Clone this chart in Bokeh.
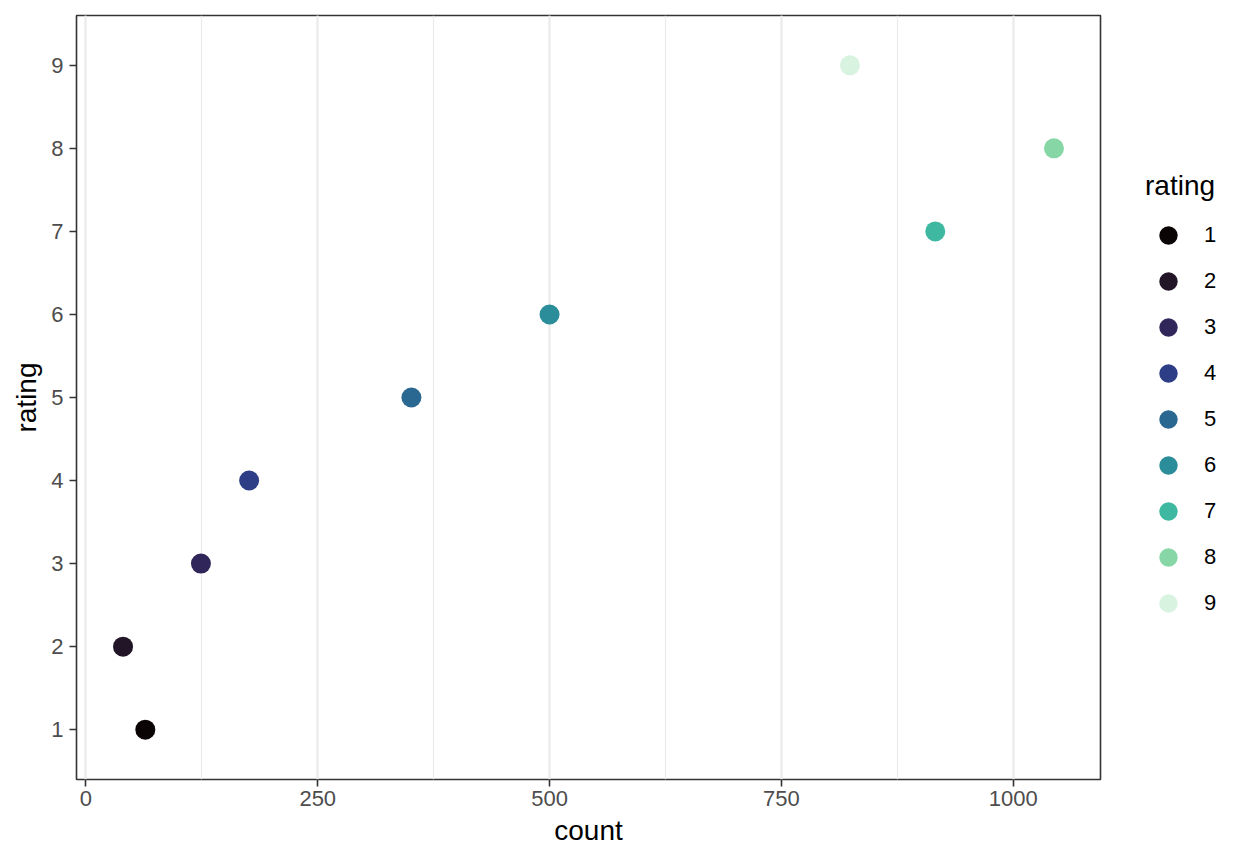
from bokeh.plotting import figure
from bokeh.models import (ColumnDataSource, Range1d, FixedTicker, SingleIntervalTicker,
                          Legend, LegendItem)
from bokeh.embed import file_html
from bokeh.resources import INLINE

# ---- data ----
ratings = [1, 2, 3, 4, 5, 6, 7, 8, 9]
counts = [64, 40, 124, 176, 351, 500, 916, 1044, 824]
colors = ["#0B0405", "#211527", "#30265A", "#2D3E86", "#2B6891",
          "#2B8C9A", "#3EB8A0", "#86D6A6", "#D8F3E0"]
x_ticks = [0, 250, 500, 750, 1000]
y_ticks = ratings

FONT = "Liberation Sans"

span = max(counts) - min(counts)
x_lo = min(counts) - 0.05 * span
x_hi = max(counts) + 0.05 * span

src = ColumnDataSource(dict(count=counts, rating=ratings, color=colors,
                            label=[str(r) for r in ratings]))

p = figure(frame_width=1024, frame_height=764, output_backend="svg", toolbar_location=None,
           x_range=Range1d(x_lo, x_hi), y_range=Range1d(0.4, 9.6),
           min_border_left=76, min_border_right=140, min_border_top=15,
           min_border_bottom=77)
p.background_fill_color = "white"
p.border_fill_color = "white"
p.outline_line_color = "#333333"
p.outline_line_width = 1.6

r = p.scatter("count", "rating", source=src, size=20, color="color",
              line_color=None)

# axes
p.xaxis.ticker = SingleIntervalTicker(interval=250, num_minor_ticks=2)
p.yaxis.ticker = FixedTicker(ticks=y_ticks)
for ax in (p.xaxis[0], p.yaxis[0]):
    ax.axis_line_color = None
    ax.major_tick_line_color = "#333333"
    ax.major_tick_line_width = 1.6
    ax.major_tick_out = 7
    ax.major_tick_in = 0
    ax.minor_tick_out = 0
    ax.minor_tick_in = 0
    ax.major_label_text_font = FONT
    ax.major_label_text_font_size = "22px"
    ax.major_label_text_color = "#4D4D4D"
    ax.axis_label_text_font = FONT
    ax.axis_label_text_font_size = "28px"
    ax.axis_label_text_font_style = "normal"
    ax.axis_label_text_color = "black"
p.xaxis.axis_label = "count"
p.yaxis.axis_label = "rating"
p.xaxis.major_label_standoff = 4
p.xaxis.axis_label_standoff = 6
p.yaxis.major_label_standoff = 6
p.yaxis.axis_label_standoff = 6

# grid
p.xgrid.grid_line_color = "#EBEBEB"
p.xgrid.grid_line_width = 2.2
p.xgrid.minor_grid_line_color = "#EBEBEB"
p.xgrid.minor_grid_line_width = 1.2
p.ygrid.visible = False

# legend
items = [LegendItem(label=str(rt), renderers=[r], index=i) for i, rt in enumerate(ratings)]
legend = Legend(items=items, location=(45, 153), title="rating",
                title_text_font=FONT, title_text_font_size="28px",
                title_text_font_style="normal", title_text_color="black",
                title_standoff=10,
                label_text_font=FONT, label_text_font_size="22px",
                label_text_color="black",
                glyph_width=46, glyph_height=46, label_height=46,
                label_standoff=13, spacing=0, padding=0, margin=0,
                border_line_color=None, background_fill_alpha=0)
p.add_layout(legend, "right")

open("out.html", "w").write(file_html(p, INLINE))
